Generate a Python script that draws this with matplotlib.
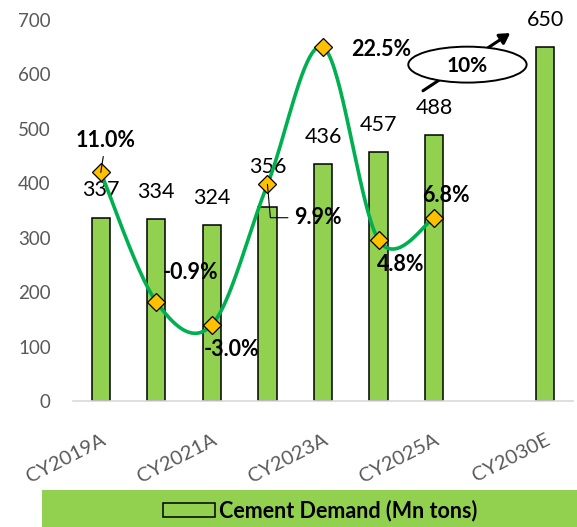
import numpy as np
import matplotlib
matplotlib.use('Agg')
import matplotlib.pyplot as plt
from matplotlib.patches import Ellipse, Rectangle, Patch

plt.rcParams['font.family'] = ['Lato', 'DejaVu Sans']

years = ['CY2019A', 'CY2020A', 'CY2021A', 'CY2022A', 'CY2023A',
         'CY2024A', 'CY2025A', '', 'CY2030E']
demand = [337, 334, 324, 356, 436, 457, 488, np.nan, 650]
growth_years = years[:7]
growth = [11.0, -0.9, -3.0, 9.9, 22.5, 4.8, 6.8]
cagr_label = '10%'

BAR_GREEN = '#92D050'
LINE_GREEN = '#00B050'
GOLD = '#FFC000'
GRAY = '#595959'


def smooth_curve(xs, ys, sx, sy, n=40):
    # Excel-like smoothed line (Catmull-Rom through the points, screen space)
    p = np.column_stack([np.asarray(xs, float) * sx, np.asarray(ys, float) * sy])
    parts = []
    for i in range(len(p) - 1):
        p0 = p[i - 1] if i > 0 else p[i]
        p3 = p[i + 2] if i + 2 < len(p) else p[i + 1]
        p1, p2 = p[i], p[i + 1]
        c1 = p1 + (p2 - p0) / 6
        c2 = p2 - (p3 - p1) / 6
        t = np.linspace(0, 1, n)[:, None]
        seg = (1 - t) ** 3 * p1 + 3 * (1 - t) ** 2 * t * c1 + 3 * (1 - t) * t ** 2 * c2 + t ** 3 * p2
        parts.append(seg if i == 0 else seg[1:])
    pts = np.vstack(parts)
    return pts[:, 0] / sx, pts[:, 1] / sy


fig = plt.figure(figsize=(5.77, 5.27), dpi=100)
ax = fig.add_axes([73 / 577, 126 / 527, 500 / 577, 381 / 527])
x = np.arange(len(years))

ax.bar(x, demand, width=0.33, color=BAR_GREEN, edgecolor='black', linewidth=1.1, zorder=2)
ax.set_xlim(-0.5, len(years) - 0.5)
ax.set_ylim(0, 700)
ax.set_yticks(range(0, 701, 100))
ax.tick_params(axis='y', length=0, pad=16, labelsize=13.5, labelcolor=GRAY)
ax.set_xticks(x)
ax.set_xticklabels([y if i % 2 == 0 else '' for i, y in enumerate(years)],
                   rotation=27, ha='right', rotation_mode='anchor')
ax.tick_params(axis='x', length=0, pad=22, labelsize=14.5, labelcolor=GRAY)
for s in ['top', 'right', 'left']:
    ax.spines[s].set_visible(False)
ax.spines['bottom'].set_color('#D9D9D9')
ax.spines['bottom'].set_linewidth(1.2)

# bar value labels
for xi, v in zip(x, demand):
    if np.isnan(v):
        continue
    dy = 29 if v == 356 else 19.5
    ax.annotate(f'{v:.0f}', (xi, v), xytext=(0, dy), textcoords='offset points',
                ha='center', va='center', fontsize=15.5, color='black', zorder=5)

# growth line on hidden secondary axis
ax2 = ax.twinx()
ax2.set_ylim(-10, 25)
ax2.axis('off')
gx = np.arange(len(growth_years))
sx = 500 / len(years)
sy = 381 / 35
cx, cy = smooth_curve(gx, growth, sx, sy)
ax2.plot(cx, cy, color=LINE_GREEN, lw=2.6, zorder=3, solid_capstyle='round')
ax2.plot(gx, growth, linestyle='none', marker='D', markersize=9.5,
         markerfacecolor=GOLD, markeredgecolor='black', markeredgewidth=0.9, zorder=4)

offsets = [(3.6, 23), (24.5, 21), (14.4, -18), (36, -24), (42, -1.4), (16, -18), (8.6, 16)]
for i, (g, off) in enumerate(zip(growth, offsets)):
    kw = {}
    if i == 0:
        kw['arrowprops'] = dict(arrowstyle='-', color='black', lw=0.8, shrinkA=2, shrinkB=0)
    elif i == 3:
        kw['arrowprops'] = dict(arrowstyle='-', color='black', lw=0.8, shrinkA=0, shrinkB=0,
                                connectionstyle='angle,angleA=0,angleB=95,rad=0',
                                relpos=(-0.12, 0.5))
    ax2.annotate(f'{g:.1f}%', (gx[i], g), xytext=off, textcoords='offset points',
                 ha='center', va='center', fontsize=15.5, fontweight='bold',
                 color='black', zorder=6, **kw)

# CAGR bubble with arrow
ax.annotate('', xy=(7.37, 676), xytext=(5.8, 570),
            arrowprops=dict(arrowstyle='-|>,head_length=0.6,head_width=0.35', color='black',
                            lw=2.2, shrinkA=0, shrinkB=0), zorder=6)
ax.add_patch(Ellipse((6.6, 618), 2.13, 66, facecolor='white', edgecolor='black',
                     lw=1.4, zorder=7))
ax.text(6.6, 616, cagr_label, ha='center', va='center', fontsize=15, fontweight='bold', zorder=8)

# legend band
fig.patches.append(Rectangle((42 / 577, 0), 535 / 577, 37 / 527, transform=fig.transFigure,
                             facecolor=BAR_GREEN, edgecolor='none', zorder=0))
fig.legend(handles=[Patch(facecolor=BAR_GREEN, edgecolor='black', linewidth=1.1,
                          label='Cement Demand (Mn tons)')],
           loc='center', bbox_to_anchor=(320 / 577, 16 / 527), frameon=False,
           prop={'size': 15.5, 'weight': 'bold'}, handlelength=2.4, handleheight=0.6,
           handletextpad=0.2)

fig.savefig('out.png', dpi=100)
